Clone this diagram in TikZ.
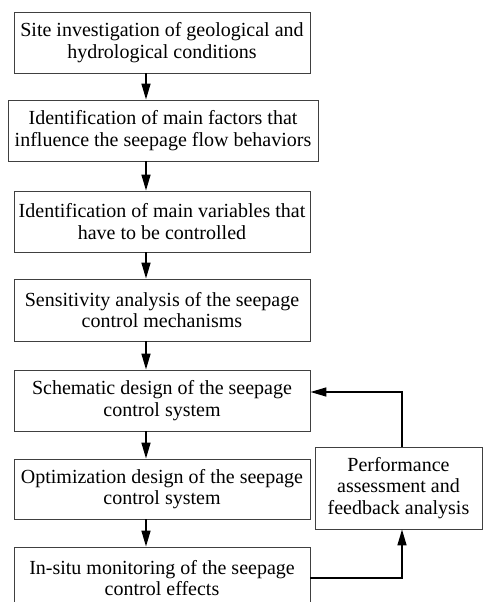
\documentclass[tikz,border=0pt]{standalone}
\usepackage{fontspec}
\setmainfont{Liberation Serif}
\usetikzlibrary{arrows.meta}
\begin{document}
\begin{tikzpicture}[x=1pt,y=-1pt,
  box/.style={draw=black!75, line width=0.9pt, align=center, inner sep=0pt,
    font=\fontsize{20pt}{21.5pt}\selectfont},
  arr/.style={draw=black, line width=1.5pt, -{Triangle[length=16pt,width=9pt]}}]
\useasboundingbox (0,0) rectangle (483,602);
\coordinate (ax) at (146,0);
\coordinate (fx) at (402,0);
\coordinate (fy) at (0,392);
\node[box, minimum width=296pt, minimum height=61pt] (b1) at (162,42.5) {Site investigation of geological and\\hydrological conditions};
\node[box, minimum width=310pt, minimum height=61pt] (b2) at (163,130.5) {Identification of main factors that\\influence the seepage flow behaviors};
\node[box, minimum width=296pt, minimum height=61pt] (b3) at (162,221.5) {Identification of main variables that\\have to be controlled};
\node[box, minimum width=296pt, minimum height=62pt] (b4) at (162,310) {Sensitivity analysis of the seepage\\control mechanisms};
\node[box, minimum width=296pt, minimum height=61pt] (b5) at (162,400.5) {Schematic design of the seepage\\control system};
\node[box, minimum width=296pt, minimum height=60pt] (b6) at (162,489) {Optimization design of the seepage\\control system};
\node[box, minimum width=296pt, minimum height=62pt] (b7) at (162,578) {In-situ monitoring of the seepage\\control effects};
\node[box, minimum width=167pt, minimum height=82pt] (b8) at (398.5,488) {Performance\\assessment and\\feedback analysis};
\draw[arr] (b1.south -| ax) -- (b2.north -| ax);
\draw[arr] (b2.south -| ax) -- (b3.north -| ax);
\draw[arr] (b3.south -| ax) -- (b4.north -| ax);
\draw[arr] (b4.south -| ax) -- (b5.north -| ax);
\draw[arr] (b5.south -| ax) -- (b6.north -| ax);
\draw[arr] (b6.south -| ax) -- (b7.north -| ax);
\draw[arr] (b7.east) -| (fx |- b8.south);
\draw[arr] (fx |- b8.north) |- (b5.east |- fy);
\end{tikzpicture}
\end{document}
